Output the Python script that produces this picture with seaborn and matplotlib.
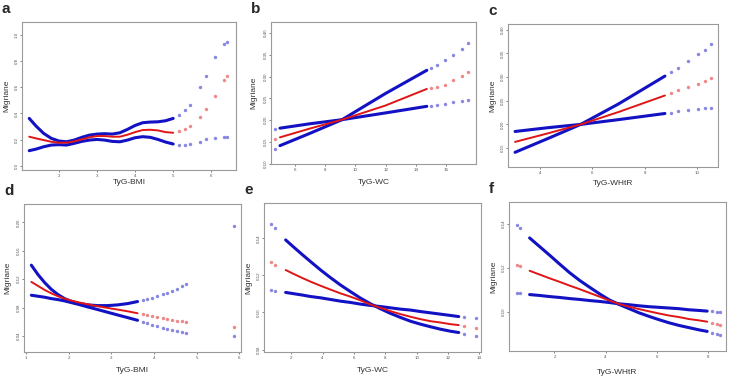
#!/usr/bin/env python3
# RCS curves of TyG indices vs migraine (six panels)

import numpy as np
import pandas as pd
import matplotlib
matplotlib.use('Agg')
import matplotlib.pyplot as plt
import seaborn as sns

sns.set_style('white')
plt.rcParams['font.family'] = ['Liberation Sans', 'DejaVu Sans']

# ---- panel a: TyG-BMI (top) ----
a_x = [1.22, 1.4, 1.6, 1.8, 2.0, 2.2, 2.4, 2.6, 2.8, 3.0, 3.2, 3.4, 3.6, 3.8, 4.0, 4.2, 4.4, 4.6, 4.8, 5.0]
a_hi = [0.362, 0.303, 0.247, 0.209, 0.189, 0.183, 0.196, 0.217, 0.234, 0.242, 0.245, 0.242, 0.252, 0.278, 0.308, 0.329, 0.334, 0.336, 0.344, 0.362]
a_mid = [0.222, 0.209, 0.196, 0.183, 0.176, 0.176, 0.186, 0.201, 0.217, 0.227, 0.227, 0.222, 0.222, 0.237, 0.257, 0.273, 0.275, 0.270, 0.257, 0.252]
a_lo = [0.115, 0.127, 0.145, 0.158, 0.161, 0.158, 0.171, 0.186, 0.196, 0.201, 0.196, 0.186, 0.183, 0.196, 0.214, 0.222, 0.217, 0.201, 0.181, 0.166]
a_tx = [5.15, 5.3, 5.45, 5.7, 5.85, 6.1, 6.33, 6.42]
a_thi = [0.387, 0.425, 0.464, 0.599, 0.690, 0.833, 0.930, 0.948]
a_tmid = [0.268, 0.278, 0.303, 0.375, 0.431, 0.532, 0.655, 0.685]
a_tlo = [0.161, 0.161, 0.168, 0.183, 0.206, 0.214, 0.217, 0.217]

# ---- panel b: TyG-WC (top) ----
b_x = [5.04, 7.0, 9.13, 11.97, 14.71]
b_hi = [0.142, 0.170, 0.2015, 0.261, 0.3145]
b_mid = [0.161, 0.181, 0.2015, 0.2336, 0.2718]
b_lo = [0.182, 0.192, 0.2015, 0.2168, 0.232]
b_tx = [4.71, 15.0, 15.37, 15.91, 16.46, 17.0, 17.44]
b_thi = [0.135, 0.320, 0.327, 0.337, 0.350, 0.363, 0.377]
b_tmid = [0.157, 0.274, 0.277, 0.2817, 0.293, 0.302, 0.310]
b_tlo = [0.181, 0.233, 0.235, 0.237, 0.241, 0.244, 0.247]

# ---- panel c: TyG-WHtR (top) ----
c_x = [3.05, 4.3, 5.56, 7.0, 8.78]
c_hi = [0.141, 0.170, 0.200, 0.243, 0.302]
c_mid = [0.163, 0.181, 0.200, 0.226, 0.261]
c_lo = [0.185, 0.193, 0.200, 0.210, 0.223]
c_tx = [9.0, 9.29, 9.67, 10.05, 10.3, 10.56]
c_thi = [0.310, 0.319, 0.333, 0.348, 0.358, 0.369]
c_tmid = [0.266, 0.272, 0.279, 0.286, 0.292, 0.299]
c_tlo = [0.225, 0.228, 0.230, 0.232, 0.234, 0.235]

# ---- panel d: TyG-BMI (bottom) ----
d_x = [1.125, 1.28, 1.436, 1.59, 1.747, 1.903, 2.058, 2.253, 2.447, 2.681, 2.914, 3.148, 3.381, 3.615]
d_hi = [0.1398, 0.1266, 0.1153, 0.1059, 0.0984, 0.0927, 0.0889, 0.0856, 0.0838, 0.0828, 0.0828, 0.0838, 0.0856, 0.0885]
d_mid = [0.1162, 0.1106, 0.1049, 0.1002, 0.0960, 0.0927, 0.0899, 0.0871, 0.0847, 0.0819, 0.0795, 0.0772, 0.0748, 0.0720]
d_lo = [0.0974, 0.0960, 0.0946, 0.0927, 0.0913, 0.0894, 0.0871, 0.0842, 0.0809, 0.0772, 0.0734, 0.0696, 0.0659, 0.0621]
d_tx = [3.75, 3.848, 3.96, 4.082, 4.2, 4.315, 4.43, 4.549, 4.65, 4.743, 5.87]
d_thi = [0.0900, 0.0918, 0.0938, 0.0960, 0.0985, 0.1012, 0.1040, 0.1068, 0.1100, 0.1139, 0.195]
d_tmid = [0.0708, 0.0692, 0.0678, 0.0664, 0.0652, 0.0640, 0.0628, 0.0616, 0.0607, 0.0598, 0.052]
d_tlo = [0.0602, 0.0579, 0.0557, 0.0536, 0.0517, 0.0499, 0.0485, 0.0471, 0.0459, 0.0447, 0.040]

# ---- panel e: TyG-WC (bottom) ----
e_x = [1.64, 2.17, 2.70, 3.23, 3.87, 4.51, 5.14, 5.78, 6.42, 7.05, 7.69, 8.33, 8.97, 9.60, 10.24, 10.88, 11.51, 12.15, 12.68]
e_hi = [0.1391, 0.1351, 0.1312, 0.1274, 0.1229, 0.1187, 0.1148, 0.1112, 0.1077, 0.1047, 0.1020, 0.0995, 0.0973, 0.0953, 0.0937, 0.0923, 0.0910, 0.0899, 0.0892]
e_mid = [0.1229, 0.1207, 0.1186, 0.1166, 0.1144, 0.1123, 0.1103, 0.1085, 0.1065, 0.1043, 0.1025, 0.1007, 0.0991, 0.0977, 0.0964, 0.0953, 0.0946, 0.0937, 0.0932]
e_lo = [0.1108, 0.1101, 0.1094, 0.1086, 0.1079, 0.1070, 0.1061, 0.1054, 0.1045, 0.1038, 0.1032, 0.1025, 0.1018, 0.1013, 0.1005, 0.0998, 0.0991, 0.0984, 0.0978]
e_tx = [0.73, 0.98, 13.0, 13.8]
e_thi = [0.1476, 0.1454, 0.0886, 0.0874]
e_tmid = [0.1270, 0.1256, 0.0928, 0.0917]
e_tlo = [0.1121, 0.1115, 0.0975, 0.0971]

# ---- panel f: TyG-WHtR (bottom) ----
f_x = [1.026, 1.416, 1.805, 2.195, 2.584, 2.974, 3.364, 3.753, 4.143, 4.532, 4.922, 5.312, 5.701, 6.091, 6.481, 6.870, 7.260, 7.649, 7.974]
f_hi = [0.1335, 0.1296, 0.1257, 0.1217, 0.1178, 0.1143, 0.1112, 0.1082, 0.1054, 0.1033, 0.1014, 0.0995, 0.0979, 0.0964, 0.0950, 0.0938, 0.0928, 0.0918, 0.0911]
f_mid = [0.1186, 0.1169, 0.1152, 0.1136, 0.1119, 0.1103, 0.1086, 0.1069, 0.1051, 0.1035, 0.1023, 0.1012, 0.1002, 0.0992, 0.0983, 0.0976, 0.0967, 0.0961, 0.0955]
f_lo = [0.1078, 0.1074, 0.1069, 0.1065, 0.1060, 0.1056, 0.1051, 0.1047, 0.1042, 0.1036, 0.1032, 0.1027, 0.1023, 0.1020, 0.1017, 0.1014, 0.1009, 0.1006, 0.1003]
f_tx = [0.53, 0.64, 8.17, 8.34, 8.49]
f_thi = [0.1395, 0.1380, 0.0902, 0.0899, 0.0894]
f_tmid = [0.1214, 0.1208, 0.0949, 0.0944, 0.0940]
f_tlo = [0.1083, 0.1083, 0.1002, 0.1000, 0.0997]

panels = [
    ('a', 'TyG-BMI', a_x, a_lo, a_mid, a_hi, a_tx, a_tlo, a_tmid, a_thi),
    ('b', 'TyG-WC', b_x, b_lo, b_mid, b_hi, b_tx, b_tlo, b_tmid, b_thi),
    ('c', 'TyG-WHtR', c_x, c_lo, c_mid, c_hi, c_tx, c_tlo, c_tmid, c_thi),
    ('d', 'TyG-BMI', d_x, d_lo, d_mid, d_hi, d_tx, d_tlo, d_tmid, d_thi),
    ('e', 'TyG-WC', e_x, e_lo, e_mid, e_hi, e_tx, e_tlo, e_tmid, e_thi),
    ('f', 'TyG-WHtR', f_x, f_lo, f_mid, f_hi, f_tx, f_tlo, f_tmid, f_thi),
]

# axes box in pixels (left, top, right, bottom), limits, ticks
boxes = [(22, 22, 236, 170), (271, 22, 476, 164), (508, 24, 718, 167),
         (24, 204, 241, 352), (264, 203, 481, 352), (509, 202, 726, 351)]
ylab_px = [7, 254, 493, 8, 249, 494]       # x centre of "Migriane"
xlab_px = [182, 182, 183, 371, 371, 372]     # y centre of x label
xlims = [(1.03, 6.65), (4.45, 17.95), (2.78, 10.81), (0.953, 6.04), (0.26, 14.1), (0.22, 8.71)]
ylims = [(-0.033, 1.10), (0.10, 0.425), (0.11, 0.412), (0.0174, 0.226), (0.0787, 0.159), (0.0822, 0.1498)]
xticks = [[2, 3, 4, 5, 6], [6, 8, 10, 12, 14, 16], [4, 6, 8, 10], [1, 2, 3, 4, 5, 6],
          [2, 4, 6, 8, 10, 12, 14], [2, 4, 6, 8]]
yticks = [[0.0, 0.2, 0.4, 0.6, 0.8, 1.0], [0.10, 0.15, 0.20, 0.25, 0.30, 0.35, 0.40],
          [0.15, 0.20, 0.25, 0.30, 0.35, 0.40], [0.04, 0.08, 0.12, 0.16, 0.20],
          [0.08, 0.10, 0.12, 0.14], [0.10, 0.12, 0.14]]
yfmt = ['{:.1f}', '{:.2f}', '{:.2f}', '{:.2f}', '{:.2f}', '{:.2f}']

W, H = 730, 378
fig = plt.figure(figsize=(W / 100, H / 100), dpi=100)

blue = '#1212c4'
red = '#e01515'

for i, (letter, xlab, x, lo, mid, hi, tx, tlo, tmid, thi) in enumerate(panels):
    l, t, r, b = boxes[i]
    ax = fig.add_axes([l / W, 1 - b / H, (r - l) / W, (b - t) / H])

    dense = pd.DataFrame({'x': x, 'lo': lo, 'mid': mid, 'hi': hi})
    tail = pd.DataFrame({'x': tx, 'lo': tlo, 'mid': tmid, 'hi': thi})

    for col, c, lw in [('hi', blue, 2.2), ('lo', blue, 2.2), ('mid', red, 1.4)]:
        sns.lineplot(data=dense, x='x', y=col, ax=ax, color=c, lw=lw,
                     estimator=None, sort=False)
        sns.scatterplot(data=tail, x='x', y=col, ax=ax, color=c, s=6,
                        alpha=0.5, linewidth=0)

    ax.set_xlim(*xlims[i])
    ax.set_ylim(*ylims[i])
    ax.set_xticks(xticks[i])
    ax.set_xticklabels([str(v) for v in xticks[i]])
    ax.set_yticks(yticks[i])
    ax.set_yticklabels([yfmt[i].format(v) for v in yticks[i]], rotation=90, va='center')
    ax.tick_params(axis='both', labelsize=3.2, colors='#555555', length=1.6, width=0.5, pad=1)
    ax.tick_params(axis='both', which='both', bottom=True, left=True)
    for s in ax.spines.values():
        s.set_color('#9a9a9a')
        s.set_linewidth(0.8)
    ax.set_xlabel(xlab, fontsize=6, color='#333333')
    ax.set_ylabel('Migriane', fontsize=6, color='#333333')
    ax.yaxis.set_label_coords((ylab_px[i] - l) / (r - l), 0.5)
    ax.xaxis.set_label_coords(0.5, -(xlab_px[i] - b) / (b - t))
    ax.yaxis.label.set_va('center')
    ax.xaxis.label.set_va('center')
    fig.text((l - 20) / W, 1 - (t - 13) / H, letter, fontsize=11, fontweight='bold',
             va='center', ha='left')

fig.savefig('out.png', dpi=100)
